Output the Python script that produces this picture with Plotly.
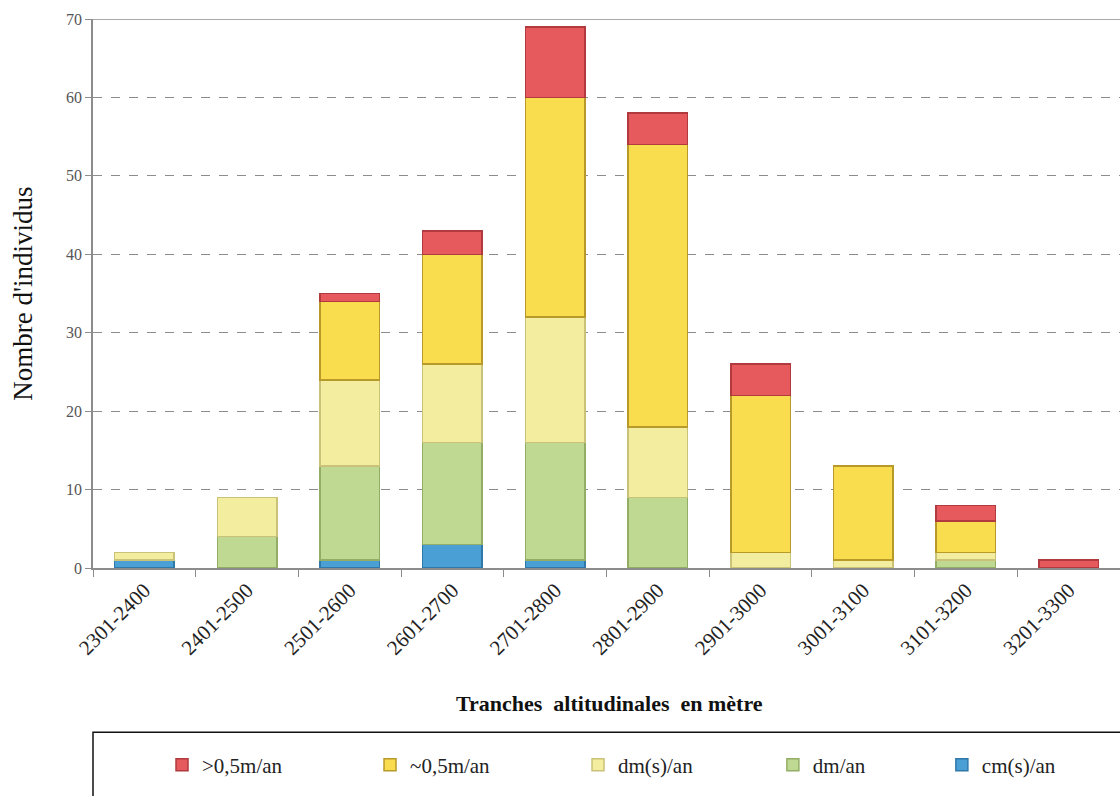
import plotly.graph_objects as go

categories = ["2301-2400", "2401-2500", "2501-2600", "2601-2700", "2701-2800",
              "2801-2900", "2901-3000", "3001-3100", "3101-3200", "3201-3300"]
cm_s_an = [1, 0, 1, 3, 1, 0, 0, 0, 0, 0]
dm_an = [0, 4, 12, 13, 15, 9, 0, 0, 1, 0]
dm_s_an = [1, 5, 11, 10, 16, 9, 2, 1, 1, 0]
approx_05 = [0, 0, 10, 14, 28, 36, 20, 12, 4, 0]
over_05 = [0, 0, 1, 3, 9, 4, 4, 0, 2, 1]

series = [
    ("cm(s)/an", cm_s_an, "#4A9FD4", "#2F78A8", "legend2"),
    ("dm/an", dm_an, "#C0D992", "#93AD66", "legend2"),
    ("dm(s)/an", dm_s_an, "#F3EE9F", "#C9C278", "legend"),
    ("~0,5m/an", approx_05, "#F9DD4F", "#B89A2A", "legend"),
    (">0,5m/an", over_05, "#E6595D", "#B03A3E", "legend"),
]

FONT = "Liberation Serif"
fig = go.Figure()
for name, vals, col, edge, lg in series:
    fig.add_trace(go.Bar(
        x=categories, y=[v if v else None for v in vals], name=name, legend=lg,
        marker=dict(color=col, line=dict(color=edge, width=1.5)),
        width=0.58,
    ))

legend_common = dict(
    orientation="h", traceorder="reversed",
    y=-0.359, xanchor="left", yanchor="middle",
    font=dict(family=FONT, size=21, color="#222222"),
    entrywidthmode="pixels",
    bgcolor="rgba(0,0,0,0)",
    itemclick=False,
)

fig.update_layout(
    barmode="stack",
    width=1120, height=796,
    margin=dict(l=93, r=0, t=19, b=228),
    plot_bgcolor="white", paper_bgcolor="white",
    font=dict(family=FONT, color="#222222"),
    showlegend=True,
    legend=dict(legend_common, x=0.0672, entrywidth=163),
    legend2=dict(legend_common, x=0.662, entrywidth=124),
    xaxis=dict(
        automargin=False,
        showline=True, linecolor="#8C8C8C", linewidth=1.5,
        ticks="outside", tickson="boundaries", ticklen=7, tickcolor="#8C8C8C",
        tickangle=-45, tickfont=dict(family=FONT, size=21, color="#222222"),
        showgrid=False,
    ),
    yaxis=dict(
        automargin=False,
        range=[0, 70], dtick=10,
        showline=True, linecolor="#8C8C8C", linewidth=1.5,
        ticks="outside", ticklen=6, tickcolor="#8C8C8C",
        tickfont=dict(family=FONT, size=16, color="#555555"),
        showgrid=True, gridcolor="#8C8C8C", griddash="dash", gridwidth=1,
        zeroline=False,
    ),
    shapes=[
        dict(type="line", xref="paper", yref="y", x0=0, x1=1, y0=70, y1=70,
             line=dict(color="#8C8C8C", width=1.5)),
        dict(type="rect", xref="paper", yref="paper", x0=0, x1=1.2, y0=-0.299, y1=-0.6,
             line=dict(color="#111111", width=1.5), fillcolor="rgba(0,0,0,0)"),
    ],
    annotations=[
        dict(text="<b>Tranches  altitudinales  en mètre</b>", xref="paper", yref="paper",
             x=0.503, y=-0.246, xanchor="center", yanchor="middle", showarrow=False,
             font=dict(family=FONT, size=22, color="#111111")),
        dict(text="Nombre d'individus", xref="paper", yref="paper",
             x=-0.069, y=0.5, xanchor="center", yanchor="middle", showarrow=False,
             textangle=-90, font=dict(family=FONT, size=27, color="#111111")),
    ],
)

fig.write_html("out.html", config={"displayModeBar": False},
               post_script="document.body.style.margin='0';document.body.style.overflow='hidden';")
